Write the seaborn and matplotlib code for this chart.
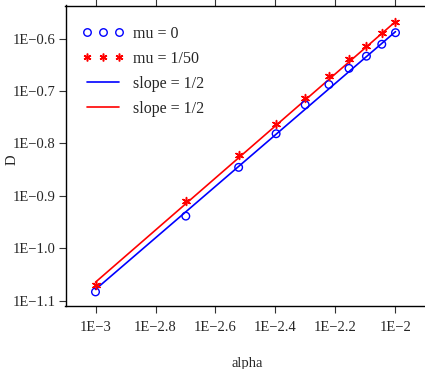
import numpy as np
import pandas as pd
import matplotlib
matplotlib.use("Agg")
import matplotlib.pyplot as plt
import seaborn as sns
from matplotlib.lines import Line2D
from matplotlib.ticker import FixedLocator, FixedFormatter, NullLocator

# Data
alpha = [0.001, 0.002, 0.003, 0.004, 0.005, 0.006, 0.007, 0.008, 0.009, 0.010]
D_mu0 = [0.0825, 0.1151, 0.1426, 0.1653, 0.1877, 0.2052, 0.2203, 0.2324, 0.2449, 0.2577]
D_mu50 = [0.0852, 0.1229, 0.1503, 0.1727, 0.1931, 0.2130, 0.2300, 0.2431, 0.2574, 0.2706]
line_alpha = [0.001, 0.01]
line_blue = [0.0834, 0.2589]
line_red = [0.0861, 0.2706]
xtick_exp = [-3, -2.8, -2.6, -2.4, -2.2, -2]
ytick_exp = [-1.1, -1.0, -0.9, -0.8, -0.7, -0.6]
xtick_labels = ["1E\u22123", "1E\u22122.8", "1E\u22122.6", "1E\u22122.4", "1E\u22122.2", "1E\u22122"]
ytick_labels = ["1E\u22121.1", "1E\u22121.0", "1E\u22120.9", "1E\u22120.8", "1E\u22120.7", "1E\u22120.6"]

sns.set_style("ticks")
plt.rcParams['font.family'] = ['Liberation Serif', 'DejaVu Serif']

fig = plt.figure(figsize=(4.25, 3.69), dpi=100)
ax = fig.add_axes([65.5/425, 63.5/369, 364/425, 300/369])

blue = '#0000ff'
red = '#ff0000'
star = (6, 2, 0)

sns.lineplot(x=line_alpha, y=line_blue, ax=ax, color=blue, linewidth=1.2)
sns.lineplot(x=line_alpha, y=line_red, ax=ax, color=red, linewidth=1.2)
sns.scatterplot(x=alpha, y=D_mu0, ax=ax, marker='o', s=30, facecolor='none',
                edgecolor=blue, linewidth=1.0, zorder=3)
sns.scatterplot(x=alpha, y=D_mu50, ax=ax, marker=star, s=32, color=red,
                edgecolor=red, linewidth=1.1, zorder=3)

ax.set_xscale('log')
ax.set_yscale('log')
ax.set_xlim(10**-3.1, 10**(-3.1 + 364/300))
ax.set_ylim(10**-1.1095, 10**-0.537)

ax.xaxis.set_major_locator(FixedLocator([10**e for e in xtick_exp]))
ax.xaxis.set_major_formatter(FixedFormatter(xtick_labels))
ax.xaxis.set_minor_locator(NullLocator())
ax.yaxis.set_major_locator(FixedLocator([10**e for e in ytick_exp]))
ax.yaxis.set_major_formatter(FixedFormatter(ytick_labels))
ax.yaxis.set_minor_locator(NullLocator())

ax.tick_params(axis='both', labelsize=10.5, direction='out', length=5, width=0.8,
               color='#333333', top=True, right=True)
ax.tick_params(axis='x', pad=6)
ax.tick_params(axis='y', pad=2)
for sp in ax.spines.values():
    sp.set_visible(True)
    sp.set_linewidth(1.0)
    sp.set_color('black')

ax.set_xlabel('alpha', fontsize=10.5, labelpad=17)
ax.set_ylabel('D', fontsize=10.5)
ax.yaxis.set_label_coords(-0.128, 0.487)

handles = [
    Line2D([], [], marker='o', linestyle='none', markersize=5.4, markerfacecolor='none',
           markeredgecolor=blue, markeredgewidth=1.0),
    Line2D([], [], marker=star, linestyle='none', markersize=5.6, color=red,
           markeredgewidth=1.1),
    Line2D([], [], color=blue, linewidth=1.2),
    Line2D([], [], color=red, linewidth=1.2),
]
labels = ['mu = 0', 'mu = 1/50', 'slope = 1/2', 'slope = 1/2']
ax.legend(handles, labels, loc='upper left', frameon=False, numpoints=3,
          fontsize=11.5, handlelength=2.6, handletextpad=0.6, labelspacing=0.56,
          bbox_to_anchor=(0.045, 0.932), borderaxespad=0.0, borderpad=0.0)

fig.savefig('out.png', dpi=100)
